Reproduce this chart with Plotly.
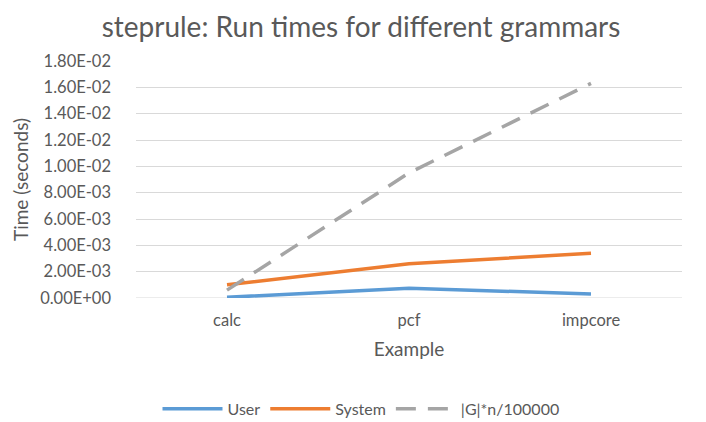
import plotly.graph_objects as go

categories = ["calc", "pcf", "impcore"]
user = [0.00005, 0.00075, 0.0003]
system = [0.001, 0.0026, 0.0034]
grammar = [0.0006, 0.0095, 0.0163]
tick_vals = [0, 0.002, 0.004, 0.006, 0.008, 0.010, 0.012, 0.014, 0.016, 0.018]
tick_text = ["0.00E+00", "2.00E-03", "4.00E-03", "6.00E-03", "8.00E-03",
             "1.00E-02", "1.20E-02", "1.40E-02", "1.60E-02", "1.80E-02"]

FONT = "Lato, Liberation Sans, sans-serif"
GREY = "#595959"

fig = go.Figure()
fig.add_trace(go.Scatter(x=categories, y=user, name="User", mode="lines",
                         line=dict(color="#5b9bd5", width=3.5)))
fig.add_trace(go.Scatter(x=categories, y=system, name="System", mode="lines",
                         line=dict(color="#ed7d31", width=3.5)))
fig.add_trace(go.Scatter(x=categories, y=grammar, name="|G|*n/100000", mode="lines",
                         line=dict(color="#a5a5a5", width=3.5, dash="20px,12px")))

fig.update_layout(
    width=706, height=422,
    paper_bgcolor="white", plot_bgcolor="white",
    margin=dict(l=128, r=32, t=53, b=132),
    font=dict(family=FONT, color=GREY, size=15),
    title=dict(text="steprule: Run times for different grammars", x=0.5, xanchor="center",
               xref="container", yref="container",
               y=0.955, yanchor="middle", font=dict(size=28, color=GREY, family=FONT)),
    xaxis=dict(title=dict(text="Example", font=dict(size=19, color=GREY), standoff=14),
               showgrid=False, showline=False, zeroline=False, ticks="",
               tickfont=dict(size=16.5, color=GREY), range=[-0.5, 2.5],
               ticklabelstandoff=10),
    yaxis=dict(title=dict(text="Time (seconds)", font=dict(size=19, color=GREY), standoff=6),
               range=[0, 0.018], tickvals=tick_vals, ticktext=tick_text,
               showgrid=True, gridcolor="#d9d9d9", gridwidth=1.2, zeroline=False,
               showline=False, ticks="", tickfont=dict(size=16.5, color=GREY),
               ticklabelstandoff=24),
    legend=dict(orientation="h", x=0.5, xanchor="center", xref="container",
                yref="container", y=0.05, yanchor="middle",
                font=dict(size=16, color=GREY), itemwidth=60, tracegroupgap=0),
    showlegend=True,
)
fig.add_shape(type="line", xref="paper", yref="y", x0=0, x1=1, y0=0, y1=0,
              line=dict(color="#d9d9d9", width=1.2), layer="below")

fig.write_html("out.html")
